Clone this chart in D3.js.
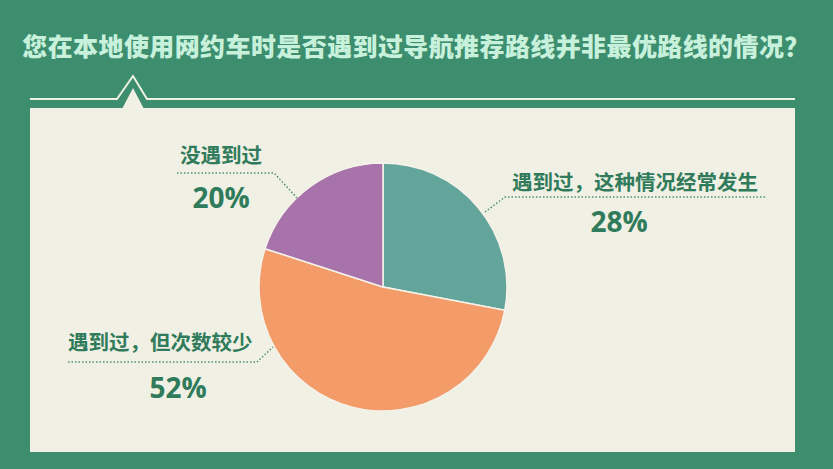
<!DOCTYPE html>
<html>
<head>
<meta charset="utf-8">
<script src="https://cdn.jsdelivr.net/npm/d3@7"></script>
<style>
  html, body { margin: 0; padding: 0; background: #3d8d6f; }
  svg { display: block; }
</style>
</head>
<body>
<div id="chart"></div>
<script>
var title = "您在本地使用网约车时是否遇到过导航推荐路线并非最优路线的情况？"
var categories = ["遇到过，这种情况经常发生", "遇到过，但次数较少", "没遇到过"]
var values = [28, 52, 20]
var colors = ["#63a59b", "#f39c6a", "#a773aa"]

var W = 833, H = 469
var svg = d3.select("#chart")
    .append("svg")
    .attr("width", W)
    .attr("height", H)
    .attr("viewBox", "0 0 " + W + " " + H)

svg.append("rect").attr("width", W).attr("height", H).style("fill", "#3d8d6f")

svg.append("text")
    .attr("x", 416).attr("y", 56)
    .attr("text-anchor", "middle")
    .style("font-family", "'Noto Sans CJK SC', sans-serif")
    .style("font-weight", 900)
    .style("font-size", "25px")
    .style("letter-spacing", "0.4px")
    .style("fill", "#c8f1dc")
    .text(title)

// line with notch
svg.append("path")
    .attr("d", "M30,99 L117,99 L133,76 L147,99 L795,99")
    .style("fill", "none")
    .style("stroke", "#eef0e2")
    .style("stroke-width", 2)

// panel
svg.append("rect")
    .attr("x", 30).attr("y", 108)
    .attr("width", 765).attr("height", 344)
    .style("fill", "#f1f0e4")
svg.append("path")
    .attr("d", "M122,109 L133,88 L144,109 Z")
    .style("fill", "#f1f0e4")

// pie
var cx = 383, cy = 287, r = 124
var pie = d3.pie().sort(null).value(function (d) { return d })
var arc = d3.arc().innerRadius(0).outerRadius(r)

var pieGroup = svg.append("g").attr("transform", "translate(" + cx + "," + cy + ")")
pieGroup.selectAll("path")
    .data(pie(values))
    .enter()
    .append("path")
    .attr("d", arc)
    .style("fill", function (d, i) { return colors[i] })
    .style("stroke", "#f6f3ea")
    .style("stroke-width", 1.5)

// labels
var labels = [
    { name: categories[0], value: values[0], tx: 512, ty: 190, px: 619, py: 232, line: "M765,197 L505,197 L485,212" },
    { name: categories[1], value: values[1], tx: 68, ty: 350, px: 178, py: 398, line: "M68,362 L257,362 L273,347" },
    { name: categories[2], value: values[2], tx: 180, ty: 163, px: 221, py: 208, line: "M177,173 L274,173 L297,198" }
]

var labelGroup = svg.append("g")
labels.forEach(function (d) {
    labelGroup.append("path")
        .attr("d", d.line)
        .style("fill", "none")
        .style("stroke", "#4f8f75")
        .style("stroke-width", 1.5)
        .style("stroke-dasharray", "1.5,2")
    labelGroup.append("text")
        .attr("x", d.tx).attr("y", d.ty)
        .style("font-family", "'Noto Sans CJK SC', sans-serif")
        .style("font-weight", 700)
        .style("font-size", "20.5px")
        .style("fill", "#2f7b5b")
        .text(d.name)
    labelGroup.append("text")
        .attr("x", d.px).attr("y", d.py)
        .attr("text-anchor", "middle")
        .style("font-family", "'Open Sans', 'Noto Sans', sans-serif")
        .style("font-weight", 700)
        .style("font-size", "28px")
        .style("fill", "#2f7b5b")
        .text(d.value + "%")
})
</script>
</body>
</html>
